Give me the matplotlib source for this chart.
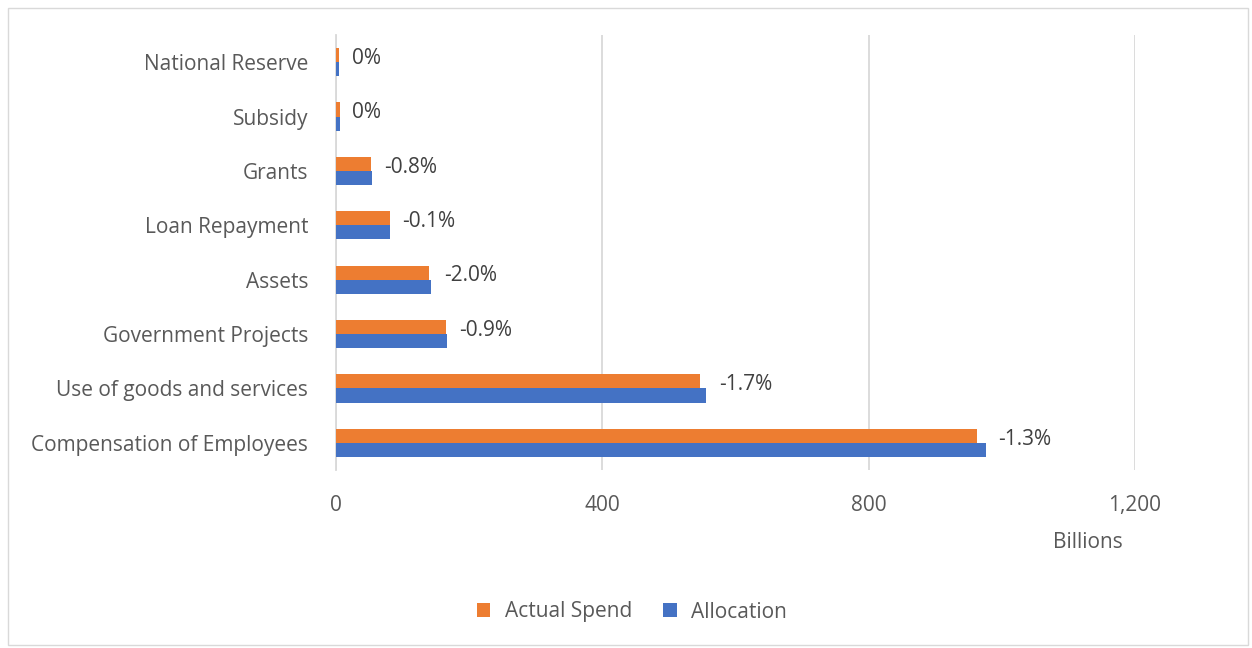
import matplotlib
matplotlib.use("Agg")
import matplotlib.pyplot as plt
import numpy as np
from matplotlib.patches import Rectangle

plt.rcParams['font.family'] = ['Open Sans', 'DejaVu Sans']

# data (billions), bottom to top
categories = ['Compensation of Employees', 'Use of goods and services', 'Government Projects',
              'Assets', 'Loan Repayment', 'Grants', 'Subsidy', 'National Reserve']
allocation = [976, 556, 166, 143, 81, 54, 6, 5]
actual_spend = [963, 547, 165, 140, 81, 53, 6, 5]
pct_labels = ['-1.3%', '-1.7%', '-0.9%', '-2.0%', '-0.1%', '-0.8%', '0%', '0%']
xticks = [0, 400, 800, 1200]
xtick_labels = ['0', '400', '800', '1,200']

orange = '#ED7D31'
blue = '#4472C4'
txt = '#595959'
fs = 15

fig = plt.figure(figsize=(12.52, 6.48), dpi=100)
ax = fig.add_axes([336 / 1252, 1 - 470 / 648, (1135 - 336) / 1252, 435 / 648])

y = np.arange(len(categories))
h = 0.26
ax.barh(y + h / 2, actual_spend, height=h, color=orange, label='Actual Spend', zorder=3)
ax.barh(y - h / 2, allocation, height=h, color=blue, label='Allocation', zorder=3)

for yi, v, lab in zip(y, allocation, pct_labels):
    ax.annotate(lab, xy=(v, yi + 0.07), xytext=(9, 0), textcoords='offset points',
                va='center', ha='left', fontsize=fs, color='#404040')

ax.set_xlim(0, 1200)
ax.set_ylim(-0.5, 7.5)
ax.set_xticks(xticks)
ax.set_xticklabels(xtick_labels)
ax.set_yticks(y)
ax.set_yticklabels(categories)
ax.tick_params(axis='both', length=0, labelsize=fs, labelcolor=txt)
ax.tick_params(axis='x', pad=18)
ax.tick_params(axis='y', pad=20)
ax.grid(axis='x', color='#D9D9D9', linewidth=1.3, zorder=0)
for s in ['top', 'right', 'bottom']:
    ax.spines[s].set_visible(False)
ax.spines['left'].set_color('#D9D9D9')
ax.spines['left'].set_linewidth(1.3)

fig.text(1088 / 1252, 1 - 543 / 648, 'Billions', ha='center', va='center', fontsize=fs, color=txt)

handles, labels = ax.get_legend_handles_labels()
fig.legend(handles, labels, loc='center', bbox_to_anchor=(632 / 1252, 1 - 612 / 648), ncol=2,
           frameon=False, fontsize=fs, labelcolor=txt, handlelength=0.65, handleheight=0.65,
           columnspacing=1.5, handletextpad=0.7)

fig.patches.append(Rectangle((8 / 1252, 3 / 648), 1240 / 1252, 637 / 648, transform=fig.transFigure,
                             fill=False, edgecolor='#D9D9D9', linewidth=1))

fig.savefig('out.png', dpi=100, facecolor='white')
